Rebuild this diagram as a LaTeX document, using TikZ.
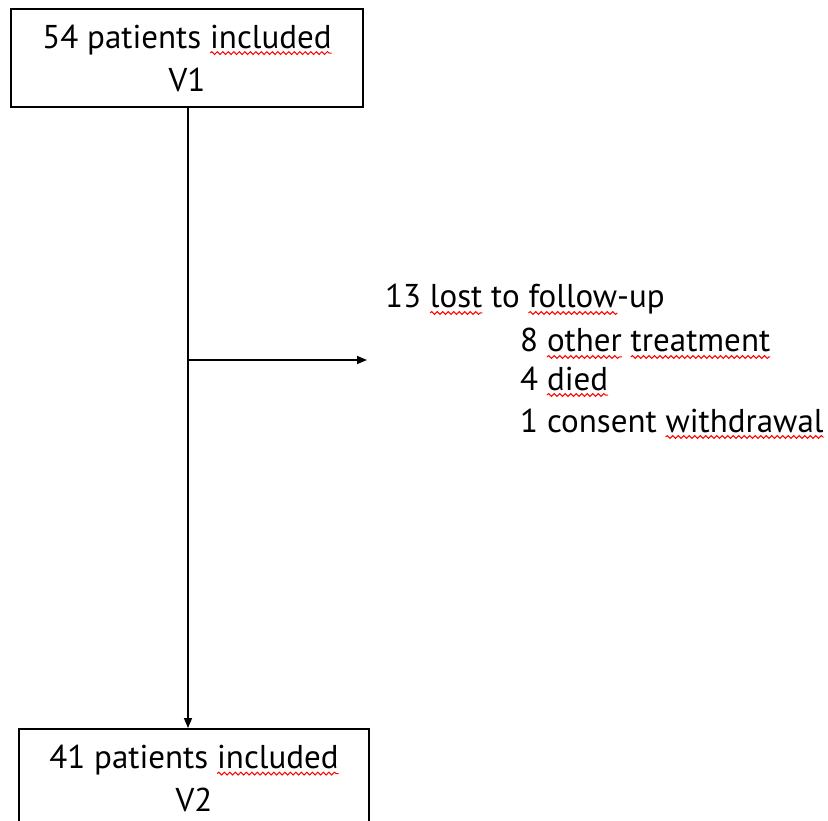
\documentclass[tikz,border=0pt]{standalone}
\usepackage{fontspec}
\setmainfont{PT Sans}
\usetikzlibrary{arrows.meta,decorations.pathmorphing}
\newcommand\sq[1]{\setbox0\hbox{#1}\rlap{\tikz[overlay,baseline=0pt]\draw[red,line width=1pt,decorate,decoration={snake,amplitude=1.4pt,segment length=5.5pt}] (0pt,-5pt)--(\the\wd0,-5pt);}\box0\relax}
\tikzset{
  box/.style={draw,line width=1.8pt,minimum width=352pt,minimum height=98pt,align=center,inner sep=0pt},
  txt/.style={anchor=base west,inner sep=0pt},
  conn/.style={line width=1.3pt,-{Triangle[length=10pt,width=8pt]}},
}
\begin{document}
\begin{tikzpicture}[x=1pt,y=-1pt,font=\fontsize{33}{43}\selectfont]
\clip (0,0) rectangle (828,821);
\fill[white] (0,0) rectangle (828,821);
\node[box] (v1) at (187,58) {54 patients \sq{included}\\V1};
\node[box,minimum width=350pt,minimum height=99pt] (v2) at (194,778.5) {41 patients \sq{included}\\V2};
\node[txt] (l1) at (385,308) {13 \sq{lost} to \sq{follow}-up};
\node[txt] (l2) at (520,352) {8 \sq{other} \sq{treatment}};
\node[txt] (l3) at (520,390) {4 \sq{died}};
\node[txt] (l4) at (520,432) {1 consent \sq{withdrawal}};
\coordinate (br) at (188,360);
\coordinate (bend) at (367,360);
\draw[conn] (v1.south -| br) -- (v2.north -| br);
\draw[conn] (br) -- (bend);
\end{tikzpicture}
\end{document}
